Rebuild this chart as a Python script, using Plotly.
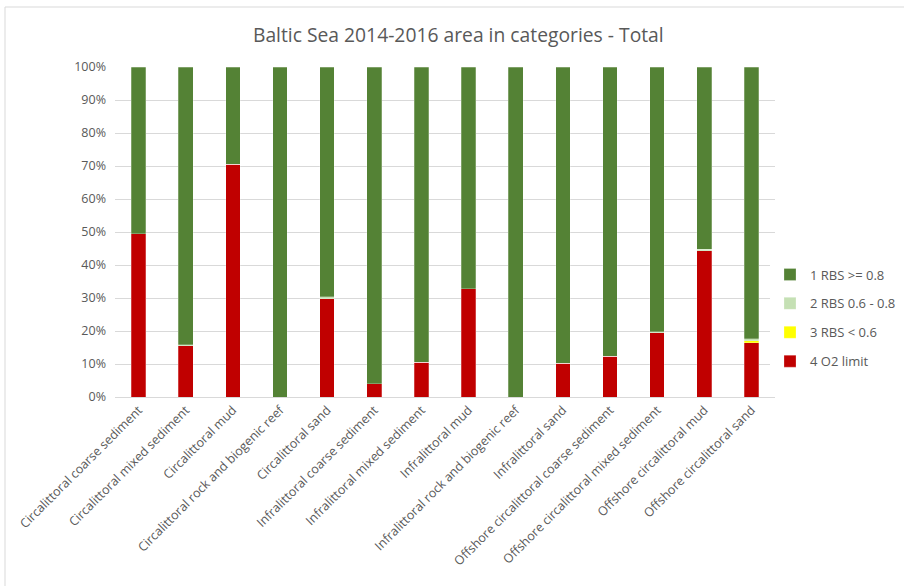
import plotly.graph_objects as go

# =========================
# DATA
# =========================
categories = [
    "Circalittoral coarse sediment",
    "Circalittoral mixed sediment",
    "Circalittoral mud",
    "Circalittoral rock and biogenic reef",
    "Circalittoral sand",
    "Infralittoral coarse sediment",
    "Infralittoral mixed sediment",
    "Infralittoral mud",
    "Infralittoral rock and biogenic reef",
    "Infralittoral sand",
    "Offshore circalittoral coarse sediment",
    "Offshore circalittoral mixed sediment",
    "Offshore circalittoral mud",
    "Offshore circalittoral sand",
]

o2_limit = [49.5, 15.5, 70.5, 0.0, 29.8, 4.0, 10.6, 32.8, 0.0, 10.3, 12.4, 19.4, 44.3, 16.4]
rbs_low = [0.0, 0.0, 0.0, 0.0, 0.0, 0.0, 0.0, 0.0, 0.0, 0.0, 0.0, 0.0, 0.0, 0.7]
rbs_mid = [0.0, 0.3, 0.0, 0.0, 0.6, 0.0, 0.0, 0.0, 0.0, 0.0, 0.0, 0.3, 0.4, 0.5]
rbs_high = [100 - a - b - c for a, b, c in zip(o2_limit, rbs_low, rbs_mid)]

series = [
    ("4 O2 limit", o2_limit, "#C00000"),
    ("3 RBS < 0.6", rbs_low, "#FFFF00"),
    ("2 RBS 0.6 - 0.8", rbs_mid, "#C5E0B4"),
    ("1 RBS >= 0.8", rbs_high, "#548235"),
]

# =========================
# CHART
# =========================
GREY = "#595959"
FONT = "Open Sans"

fig = go.Figure()
for i, (name, vals, color) in enumerate(series):
    fig.add_trace(go.Bar(
        x=categories, y=vals, name=name, legendgroup=name,
        legendrank=1000 - i,  # "1 RBS" on top, "4 O2 limit" at the bottom
        marker=dict(color=color, line=dict(color="rgba(255,255,255,0.5)", width=0.5)),
    ))

fig.update_layout(
    barmode="stack",
    bargap=0.69,
    width=904, height=586,
    paper_bgcolor="white", plot_bgcolor="white",
    margin=dict(l=115, r=129, t=67, b=189, autoexpand=False),
    font=dict(family=FONT, color=GREY, size=12),
    title=dict(
        text="Baltic Sea 2014-2016 area in categories - Total",
        x=0.507, xanchor="center", y=1 - 35 / 586, yanchor="middle",
        font=dict(size=19.3, color=GREY, family=FONT),
    ),
    legend=dict(
        traceorder="grouped", tracegroupgap=9,
        x=(770 - 115) / 660, xanchor="left", y=(397 - 318) / 330, yanchor="middle",
        font=dict(size=13, color=GREY), itemwidth=30,
    ),
    xaxis=dict(
        tickangle=-45, tickfont=dict(size=12.5, color=GREY), automargin=False,
        showgrid=False, showline=True, linecolor="#D9D9D9", linewidth=1,
    ),
    yaxis=dict(
        range=[0, 100], dtick=10, ticksuffix="%", automargin=False,
        showgrid=True, gridcolor="#D9D9D9", gridwidth=1,
        zeroline=False, ticklabelstandoff=8,
        tickfont=dict(size=12.5, color=GREY),
    ),
    shapes=[dict(
        type="rect", xref="paper", yref="paper",
        x0=(5 - 115) / 660, x1=(915 - 115) / 660,
        y0=(397 - 600) / 330, y1=(397 - 7) / 330,
        line=dict(color="#D9D9D9", width=1), layer="below",
    )],
)

# page body has a default 8px margin; drop it so the figure fills the window
fig.write_html(
    "out.html",
    config={"displayModeBar": False},
    post_script="document.body.style.margin='0';",
)
